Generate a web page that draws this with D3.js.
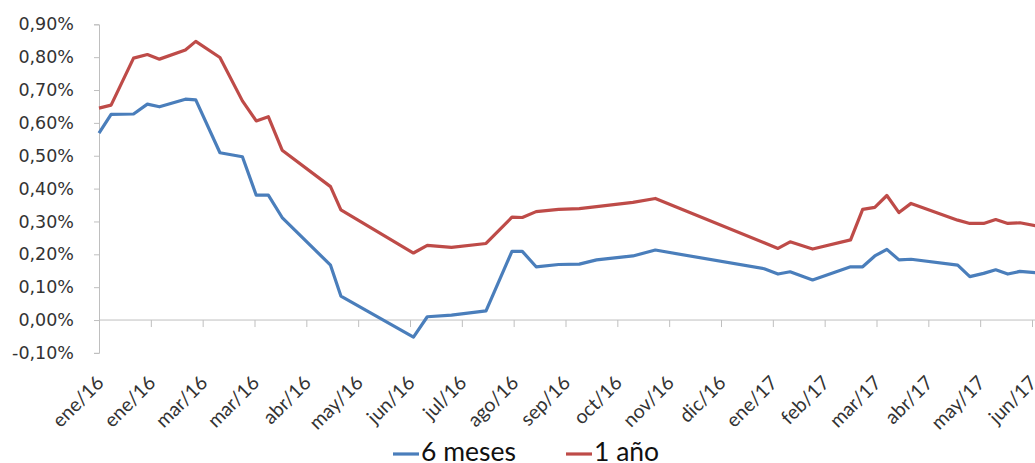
<!DOCTYPE html>
<html>
<head>
<meta charset="utf-8">
<script src="https://cdn.jsdelivr.net/npm/d3@7"></script>
<style>
  body { margin: 0; background: #fff; }
  svg { display: block; }
</style>
</head>
<body>
<svg id="svg" width="1035" height="463"></svg>
<script>
// fechas de cada observacion (eje de fechas, como en Excel)
const dates = [
  '2016-01-01','2016-01-08','2016-01-21','2016-01-29','2016-02-05','2016-02-20','2016-02-26',
  '2016-03-11','2016-03-24','2016-04-01','2016-04-08','2016-04-16','2016-05-14','2016-05-20',
  '2016-07-01','2016-07-09','2016-07-23','2016-08-12','2016-08-27','2016-09-02','2016-09-10',
  '2016-09-23','2016-10-05','2016-10-15','2016-11-05','2016-11-18','2017-01-20','2017-01-28',
  '2017-02-04','2017-02-17','2017-03-11','2017-03-18','2017-03-25','2017-04-01','2017-04-08',
  '2017-04-15','2017-05-12','2017-05-19','2017-05-27','2017-06-03','2017-06-10','2017-06-17',
  '2017-06-26'
];

// tasas en %
const seisMeses = [
  0.569, 0.626, 0.627, 0.657, 0.649, 0.672, 0.670,
  0.509, 0.497, 0.380, 0.380, 0.312, 0.167, 0.073,
  -0.052, 0.010, 0.015, 0.028, 0.209, 0.209, 0.162,
  0.169, 0.170, 0.183, 0.195, 0.213, 0.156, 0.140,
  0.147, 0.122, 0.162, 0.162, 0.195, 0.215, 0.183,
  0.185, 0.167, 0.132, 0.142, 0.153, 0.140, 0.148,
  0.144
];

const unAnio = [
  0.645, 0.654, 0.797, 0.808, 0.794, 0.822, 0.848,
  0.799, 0.667, 0.606, 0.619, 0.517, 0.406, 0.335,
  0.204, 0.227, 0.221, 0.233, 0.313, 0.312, 0.330,
  0.337, 0.339, 0.345, 0.358, 0.370, 0.235, 0.218,
  0.238, 0.216, 0.244, 0.337, 0.343, 0.379, 0.327,
  0.355, 0.304, 0.294, 0.294, 0.306, 0.294, 0.296,
  0.287
];

const yTicks = [-0.1, 0, 0.1, 0.2, 0.3, 0.4, 0.5, 0.6, 0.7, 0.8, 0.9];
const xTickLabels = ['ene/16','ene/16','mar/16','mar/16','abr/16','may/16','jun/16','jul/16','ago/16',
  'sep/16','oct/16','nov/16','dic/16','ene/17','feb/17','mar/17','abr/17','may/17','jun/17'];

const seriesNames = ['6 meses', '1 año'];
const colors = ['#4a7ebb', '#be4b48'];

const svg = d3.select('#svg');
const parse = d3.timeParse('%Y-%m-%d');
const start = parse('2016-01-01');
const tickDates = xTickLabels.map((l, i) => d3.timeDay.offset(start, i * 30));

const xScale = d3.scaleTime()
  .domain([start, tickDates[tickDates.length - 1]])
  .range([99, 1032]);
const yScale = d3.scaleLinear()
  .domain([-0.1, 0.9])
  .range([352.9, 24.3]);

const axisColor = '#bfbfbf';
const textColor = '#333';

// eje y
const yAxis = svg.append('g')
  .attr('transform', 'translate(99,0)')
  .call(d3.axisLeft(yScale)
    .tickValues(yTicks)
    .tickSize(5)
    .tickPadding(20)
    .tickFormat(d => d.toFixed(2).replace('.', ',') + '%'));
yAxis.select('.domain').attr('stroke', axisColor);
yAxis.selectAll('.tick line').attr('stroke', axisColor);
yAxis.selectAll('.tick text')
  .attr('fill', textColor)
  .style('font-family', 'DejaVu Sans')
  .style('font-size', '17.5px');

// eje x en el cero
const xAxis = svg.append('g')
  .attr('transform', 'translate(0,' + yScale(0) + ')')
  .call(d3.axisBottom(xScale)
    .tickValues(tickDates)
    .tickSize(7)
    .tickFormat(''));
xAxis.select('.domain').remove();
xAxis.selectAll('.tick line').attr('stroke', axisColor);
xAxis.append('line')
  .attr('x1', 99).attr('x2', 1035)
  .attr('stroke', axisColor);

svg.append('g').selectAll('text')
  .data(tickDates)
  .enter()
  .append('text')
  .attr('transform', (d, i) => 'translate(' + (xScale(d) + 6) + ',384) rotate(-45)')
  .attr('text-anchor', 'end')
  .attr('fill', textColor)
  .style('font-family', 'Lato')
  .style('font-size', '19.5px')
  .text((d, i) => xTickLabels[i]);

// lineas
const line = d3.line()
  .x(d => xScale(d.date))
  .y(d => yScale(d.v));

[seisMeses, unAnio].forEach((vals, k) => {
  const pts = dates.map((s, i) => ({date: parse(s), v: vals[i]}));
  svg.append('path')
    .datum(pts)
    .attr('fill', 'none')
    .attr('stroke', colors[k])
    .attr('stroke-width', 3.2)
    .attr('stroke-linejoin', 'round')
    .attr('d', line);
});

// leyenda
const legendX = [393, 566];
const legend = svg.append('g');
seriesNames.forEach((name, k) => {
  legend.append('line')
    .attr('x1', legendX[k]).attr('x2', legendX[k] + 26)
    .attr('y1', 454).attr('y2', 454)
    .attr('stroke', colors[k])
    .attr('stroke-width', 3.2);
  legend.append('text')
    .attr('x', legendX[k] + 28)
    .attr('y', 461)
    .attr('fill', '#111')
    .style('font-family', 'Lato')
    .style('font-size', '26.5px')
    .text(name);
});
</script>
</body>
</html>
